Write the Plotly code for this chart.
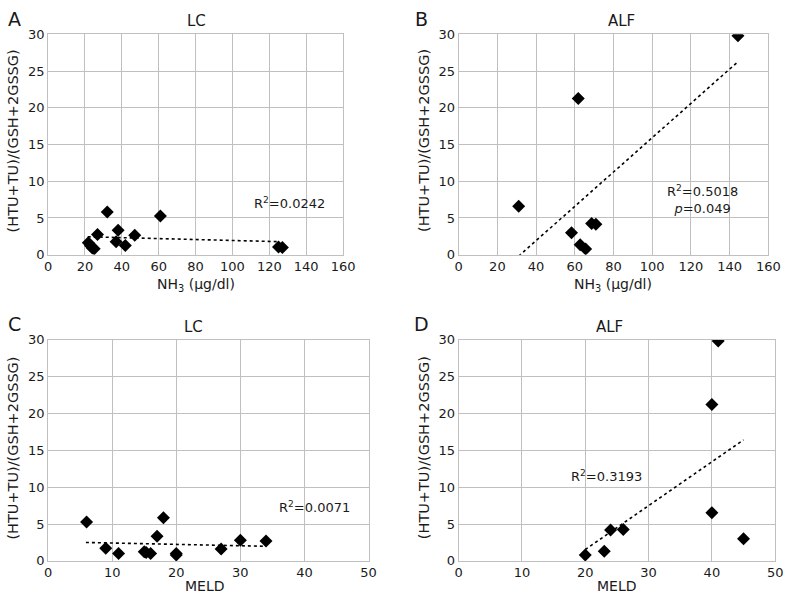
import plotly.graph_objects as go

W, H = 796, 604

# ---------------- data ----------------
# Panel A: LC, NH3 vs ratio
a_nh3 = [21.8, 23.0, 24.0, 25.0, 26.8, 32.1, 36.9, 38.0, 41.9, 47.0, 60.9, 125.0, 127.1]
a_ratio = [1.64, 1.2, 0.9, 0.8, 2.75, 5.8, 1.77, 3.32, 1.24, 2.66, 5.27, 1.06, 0.97]
a_trend_x = [21.5, 125.5]
a_trend_y = [2.44, 1.77]

# Panel B: ALF, NH3 vs ratio
b_nh3 = [31.0, 58.3, 61.8, 62.8, 65.6, 68.7, 70.9, 144.3]
b_ratio = [6.58, 3.0, 21.25, 1.35, 0.78, 4.24, 4.15, 29.8]
b_trend_x = [31.0, 144.0]
b_trend_y = [-0.19, 26.2]

# Panel C: LC, MELD vs ratio
c_meld = [6, 9, 11, 15, 15.3, 16, 17, 18, 20, 20, 27, 30, 34]
c_ratio = [5.27, 1.71, 1.01, 1.25, 1.15, 1.0, 3.34, 5.84, 1.0, 0.8, 1.62, 2.81, 2.68]
c_trend_x = [5.9, 34.0]
c_trend_y = [2.5, 1.98]

# Panel D: ALF, MELD vs ratio
d_meld = [20, 23, 24, 26, 40, 40, 41, 45]
d_ratio = [0.79, 1.32, 4.17, 4.26, 6.54, 21.2, 29.8, 2.99]
d_trend_x = [20.0, 45.0]
d_trend_y = [1.54, 16.4]

y_ticks = [0, 5, 10, 15, 20, 25, 30]
nh3_ticks = [0, 20, 40, 60, 80, 100, 120, 140, 160]
meld_ticks = [0, 10, 20, 30, 40, 50]

panel_titles = ["LC", "ALF", "LC", "ALF"]
panel_letters = ["A", "B", "C", "D"]
r2_texts = ["R<sup>2</sup>=0.0242", "R<sup>2</sup>=0.5018<br><i>p</i>=0.049",
            "R<sup>2</sup>=0.0071", "R<sup>2</sup>=0.3193"]
y_title = "(HTU+TU)/(GSH+2GSSG)"
x_titles = ["NH<sub>3</sub> (μg/dl)", "NH<sub>3</sub> (μg/dl)", "MELD", "MELD"]

# ---------------- layout helpers ----------------
def px(x):
    return x / W

def py(y):
    return 1 - y / H

FONT = "DejaVu Sans, Verdana, sans-serif"
TXT = "#1a1a1a"
GRID = "#c0c0c0"

# plot area pixel boxes (left, right, top, bottom)
boxes = [
    (45, 346, 28, 254),
    (464, 780, 28, 254),
    (45, 372, 341, 568),
    (464, 787, 341, 568),
]

fig = go.Figure()

panels = [
    (a_nh3, a_ratio, a_trend_x, a_trend_y),
    (b_nh3, b_ratio, b_trend_x, b_trend_y),
    (c_meld, c_ratio, c_trend_x, c_trend_y),
    (d_meld, d_ratio, d_trend_x, d_trend_y),
]

for i, (xs, ys, tx, ty) in enumerate(panels):
    xa = "x" if i == 0 else f"x{i+1}"
    ya = "y" if i == 0 else f"y{i+1}"
    fig.add_trace(go.Scatter(x=tx, y=ty, mode="lines", xaxis=xa, yaxis=ya,
                             line=dict(color="black", width=1.6, dash="dot"),
                             showlegend=False, hoverinfo="skip"))
    fig.add_trace(go.Scatter(x=xs, y=ys, mode="markers", xaxis=xa, yaxis=ya,
                             marker=dict(symbol="diamond", size=10, color="black"),
                             showlegend=False))

layout = dict(
    width=W, height=H,
    margin=dict(l=0, r=0, t=0, b=0),
    paper_bgcolor="white", plot_bgcolor="white",
    font=dict(family=FONT, size=12, color=TXT),
    showlegend=False,
)

for i, (l, r, t, b) in enumerate(boxes):
    sx = "" if i == 0 else str(i + 1)
    is_nh3 = i < 2
    layout[f"xaxis{sx}"] = dict(
        domain=[px(l), px(r)], anchor=f"y{sx}",
        range=[0, 160] if is_nh3 else [0, 50],
        tickvals=nh3_ticks if is_nh3 else meld_ticks,
        showgrid=True, gridcolor=GRID, gridwidth=1,
        showline=True, linecolor=GRID, linewidth=1, mirror=True,
        zeroline=False, ticks="", tickfont=dict(size=13, color=TXT),
        fixedrange=True,
    )
    layout[f"yaxis{sx}"] = dict(
        domain=[py(b), py(t)], anchor=f"x{sx}",
        range=[0, 30], tickvals=y_ticks,
        showgrid=True, gridcolor=GRID, gridwidth=1,
        showline=True, linecolor=GRID, linewidth=1, mirror=True,
        zeroline=False, ticks="", tickfont=dict(size=13, color=TXT),
        fixedrange=True,
    )

fig.update_layout(**layout)

annos = []
# panel titles
title_pos = [(196, 14), (630, 14), (193, 328), (618, 328)]
for (x, y), t in zip(title_pos, panel_titles):
    annos.append(dict(x=px(x), y=py(y), xref="paper", yref="paper", text=t,
                      showarrow=False, font=dict(size=15, color=TXT),
                      xanchor="center", yanchor="middle"))
# panel letters
letter_pos = [(11, 12), (426, 12), (11, 325), (426, 325)]
for (x, y), t in zip(letter_pos, panel_letters):
    annos.append(dict(x=px(x), y=py(y), xref="paper", yref="paper", text=t,
                      showarrow=False, font=dict(size=19, color=TXT),
                      xanchor="center", yanchor="middle"))
# x-axis titles
xt_pos = [(196, 285), (622, 285), (205, 594), (626, 594)]
for (x, y), t in zip(xt_pos, x_titles):
    annos.append(dict(x=px(x), y=py(y), xref="paper", yref="paper", text=t,
                      showarrow=False, font=dict(size=14, color=TXT),
                      xanchor="center", yanchor="middle"))
# y-axis titles
yt_pos = [(9, 137), (428, 137), (9, 452), (428, 452)]
for (x, y) in yt_pos:
    annos.append(dict(x=px(x), y=py(y), xref="paper", yref="paper", text=y_title,
                      showarrow=False, textangle=-90, font=dict(size=14.5, color=TXT),
                      xanchor="center", yanchor="middle"))
# R^2 labels (data coords)
r2_pos = [(130.8, 7.0), (125.8, 7.55), (41.6, 7.25), (23.3, 11.55)]
for i, ((x, y), t) in enumerate(zip(r2_pos, r2_texts)):
    sx = "" if i == 0 else str(i + 1)
    annos.append(dict(x=x, y=y, xref=f"x{sx}", yref=f"y{sx}", text=t,
                      showarrow=False, font=dict(size=13, color=TXT),
                      xanchor="center", yanchor="middle", align="center"))

fig.update_layout(annotations=annos)
fig.write_html(
    "out.html",
    config={"displayModeBar": False},
    post_script="document.body.style.margin='0';document.body.style.padding='0';"
                "document.documentElement.style.overflow='hidden';",
)
